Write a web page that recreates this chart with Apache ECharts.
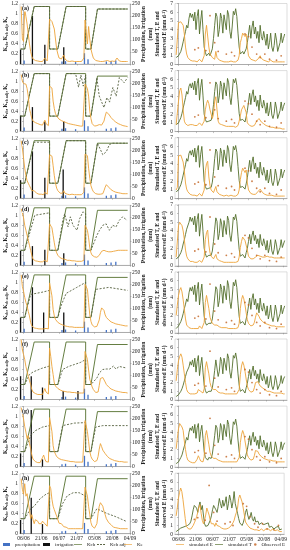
<!DOCTYPE html>
<html><head><meta charset="utf-8">
<script src="https://cdn.jsdelivr.net/npm/echarts@6/dist/echarts.min.js"></script>
<style>html,body{margin:0;padding:0;background:#fff}#c{width:290px;height:550px}</style>
</head><body><div id="c"></div>
<script>
const panelLabels = ['(a)','(b)','(c)','(d)','(e)','(f)','(g)','(h)'];
const tickDays = [0,15,30,45,60,75,90];
const tickLabels = ['06/06','21/06','06/07','21/07','05/08','20/08','04/09'];
const KE_START = -2;   // first day of the Ke arrays
const ET_START = -2;   // first day of the E/T arrays

const kcb = [[-2.5,0.3],[1,0.3],[9,1.15],[22,1.15],[22,0.3],[29,0.3],[36,1.15],[52.5,1.15],[52.5,0.3],[57,0.3],[62.5,1.1],[88,1.1]];
const precipitation = [[0.5,15],[32.5,10],[35.5,12],[44,8],[51.5,45],[54.5,20],[70,10],[74,12],[78,15]];
const observedE = [[14,1.7],[17,1.9],[23.5,1.6],[27,5.6],[31,2.5],[34,1.5],[41,1.2],[45.5,1.4],[48,1.0],[57,3.5],[60,3.2],[63,2.0],[67,1.2],[70,0.8],[74,1.2],[78,0.6],[84,0.5],[88,1.0]];

const irrigation_a = [[-2.5,60],[7.5,200],[18,80],[34,70]];
const irrigation_b = [[-2.5,65],[7.5,100],[18,40],[34,40]];
const irrigation_c = [[-2.5,75],[7.5,195],[18,85],[33.5,120]];
const irrigation_d = [[-2.5,60],[7.5,80],[18,65],[34,50]];
const irrigation_e = [[-2.5,62],[7.5,188],[17,83],[34,83]];
const irrigation_f = [[-2.5,97],[6.5,97],[16,50],[33.5,35],[46,35]];
const irrigation_g = [[-2.5,55],[6.5,236],[16,30]];
const irrigation_h = [[-2.5,57],[6.5,150],[16,40]];

const kcbAdj_a = [[-2.5,0.3],[1,0.3],[9,1.15],[22,1.15],[22,0.3],[29,0.3],[36,1.15],[52.5,1.15],[52.5,0.3],[57,0.3],[62.5,1.1],[88,1.1]];
const kcbAdj_b = [[-2.5,0.3],[1,0.3],[9,1.15],[22,1.15],[22,0.3],[29,0.3],[36,1.15],[44,1.15],[46.5,0.88],[48.5,1.12],[50.5,0.9],[52.5,1.12],[52.5,0.3],[57,0.3],[62,1.07],[64,0.7],[68,0.47],[70.5,0.67],[72.7,0.58],[75.5,0.87],[78.3,0.7],[81,1.07],[85,0.97],[88,1.07]];
const kcbAdj_c = [[-2.5,0.3],[1,0.3],[9,1.12],[22,1.12],[22,0.3],[29,0.3],[36,1.15],[52.5,1.15],[52.5,0.3],[57,0.3],[62.5,1.1],[64,1.07],[67,0.87],[70,0.93],[72.5,1.07],[75,1.1],[88,1.1]];
const kcbAdj_d = [[-2.5,0.3],[1,0.3],[9.5,1.0],[22,1.05],[22,0.3],[29,0.3],[33.4,0.93],[34.8,1.03],[37.6,0.77],[39.6,0.97],[41.8,0.8],[45.2,0.7],[47.4,0.93],[50.2,1.07],[52.5,1.03],[52.5,0.3],[57,0.3],[62,0.6],[64.2,0.7],[67,0.8],[69.8,0.83],[72.6,0.7],[75.4,0.8],[78.2,0.77],[81,0.9],[83.8,0.97],[87.5,0.9]];
const kcbAdj_e = [[-2.5,0.3],[1,0.3],[6,0.76],[15,0.8],[22,0.84],[22,0.3],[29,0.3],[32,0.55],[36,0.78],[45,0.9],[52.5,1.0],[52.5,0.3],[57,0.3],[61,0.86],[72,0.9],[88,0.84]];
const kcbAdj_f = [[-2.5,0.3],[1,0.3],[5,0.5],[8,0.55],[15,0.62],[22,0.67],[22,0.3],[29,0.3],[33,0.6],[38,0.66],[43,0.7],[48,0.74],[52.5,0.8],[52.5,0.3],[57,0.3],[62,0.43],[64,0.53],[67,0.6],[70,0.61],[73,0.61],[76,0.67],[78,0.61],[81,0.66],[87,0.63]];
const kcbAdj_g = [[-2.5,0.3],[1,0.3],[6,0.62],[10,0.72],[16,0.79],[22,0.82],[22,0.3],[29,0.3],[33,0.82],[43,0.87],[52.5,0.88],[52.5,0.3],[57,0.3],[61,0.79],[67,0.82],[88,0.82]];
const kcbAdj_h = [[-2.5,0.3],[1,0.3],[6,0.5],[9,0.55],[14,0.7],[19,0.79],[22,0.82],[22,0.3],[29,0.3],[33,0.6],[37,0.76],[42,0.82],[47,0.82],[52.5,0.75],[52.5,0.3],[57,0.3],[62,0.5],[70,0.41],[78,0.34],[87.5,0.24]];

const ke_a = [1.15,0.5,0.45,1.1,0.95,0.8,0.6,0.4,0.25,0.15, 0.1,0.08,0.07,0.06,0.06,0.05,0.05,0.05,0.05,0.05, 0.12,0.08,0.06,0.05,0.9,0.88,0.85,0.82,0.7,0.5, 0.3,0.2,0.12,0.08,0.1,0.08,0.18,0.1,0.07,0.06, 0.05,0.05,0.08,0.06,0.05,0.05,0.06,0.05,0.05,0.05, 0.05,0.05,0.05,0.12,0.88,0.86,0.4,0.75,0.5,0.3, 0.2,0.12,0.08,0.07,0.06,0.06,0.05,0.05,0.05,0.05, 0.05,0.06,0.1,0.07,0.06,0.05,0.05,0.06,0.05,0.05, 0.06,0.12,0.08,0.06,0.05,0.05,0.05,0.05,0.05,0.05, 0.05];
const ke_b = [1.13,1.0,0.95,0.97,0.94,0.85,0.7,0.45,0.35,0.25, 0.2,0.18,0.17,0.16,0.15,0.14,0.13,0.12,0.12,0.11, 0.22,0.15,0.12,0.11,0.9,0.88,0.86,0.6,0.45,0.35, 0.3,0.26,0.24,0.22,0.21,0.2,0.19,0.18,0.17,0.16, 0.15,0.15,0.14,0.13,0.13,0.12,0.12,0.11,0.11,0.11, 0.1,0.1,0.1,0.12,0.94,0.92,0.85,0.7,0.4,0.25, 0.15,0.12,0.1,0.1,0.11,0.12,0.13,0.12,0.12,0.14, 0.2,0.3,0.38,0.37,0.34,0.3,0.27,0.25,0.22,0.2, 0.18,0.17,0.15,0.14,0.13,0.12,0.11,0.1,0.1,0.09, 0.09];
const ke_c = [1.15,1.0,0.8,0.6,0.45,0.35,0.3,0.25,0.2,0.15, 0.12,0.15,0.12,0.1,0.09,0.08,0.08,0.08,0.07,0.07, 0.12,0.09,0.08,0.07,0.87,0.86,0.84,0.65,0.45,0.3, 0.2,0.15,0.12,0.1,0.12,0.1,0.15,0.1,0.08,0.08, 0.07,0.07,0.09,0.08,0.07,0.07,0.08,0.07,0.07,0.07, 0.07,0.07,0.08,0.12,0.88,0.87,0.85,0.6,0.4,0.25, 0.18,0.13,0.1,0.09,0.08,0.08,0.08,0.08,0.08,0.09, 0.15,0.22,0.27,0.25,0.22,0.2,0.17,0.15,0.14,0.12, 0.12,0.12,0.11,0.1,0.1,0.1,0.09,0.09,0.09,0.09, 0.09];
const ke_d = [1.13,1.05,0.95,0.8,0.7,0.6,0.5,0.4,0.3,0.2, 0.12,0.1,0.09,0.08,0.08,0.07,0.07,0.07,0.07,0.06, 0.1,0.08,0.07,0.07,0.83,0.8,0.75,0.6,0.45,0.32, 0.25,0.2,0.17,0.15,0.14,0.13,0.12,0.12,0.11,0.1, 0.1,0.1,0.09,0.09,0.09,0.09,0.09,0.08,0.08,0.08, 0.08,0.08,0.08,0.1,0.8,0.78,0.7,0.55,0.35,0.25, 0.2,0.18,0.17,0.16,0.16,0.17,0.2,0.24,0.28,0.3, 0.3,0.29,0.28,0.27,0.27,0.26,0.27,0.28,0.28,0.29, 0.29,0.3,0.3,0.3,0.3,0.3,0.3,0.3,0.3,0.3, 0.3];
const ke_e = [1.15,0.92,0.82,0.7,0.6,0.53,0.42,0.33,0.2,0.13, 0.1,0.09,0.08,0.08,0.07,0.07,0.07,0.07,0.07,0.07, 0.1,0.08,0.07,0.07,0.99,1.02,0.73,0.46,0.33,0.26, 0.22,0.2,0.18,0.17,0.16,0.15,0.14,0.13,0.13,0.12, 0.12,0.11,0.11,0.11,0.1,0.1,0.1,0.1,0.1,0.1, 0.1,0.1,0.1,0.1,0.96,0.98,0.86,0.6,0.35,0.22, 0.15,0.12,0.11,0.11,0.12,0.15,0.25,0.4,0.49,0.47, 0.44,0.35,0.3,0.27,0.25,0.23,0.21,0.2,0.19,0.18, 0.17,0.16,0.16,0.15,0.15,0.14,0.14,0.13,0.13,0.13, 0.13];
const ke_f = [1.2,0.99,0.9,0.8,0.66,0.56,0.46,0.38,0.3,0.2, 0.15,0.13,0.12,0.11,0.1,0.1,0.1,0.1,0.1,0.11, 0.22,0.15,0.12,0.11,1.03,0.86,0.66,0.5,0.33,0.27, 0.24,0.22,0.2,0.19,0.18,0.17,0.17,0.16,0.16,0.15, 0.15,0.15,0.14,0.14,0.14,0.14,0.13,0.13,0.13,0.13, 0.13,0.13,0.13,0.13,0.96,0.95,0.8,0.59,0.4,0.33, 0.25,0.2,0.16,0.14,0.13,0.15,0.28,0.42,0.46,0.44, 0.4,0.35,0.3,0.27,0.25,0.23,0.21,0.2,0.19,0.18, 0.17,0.17,0.16,0.16,0.15,0.15,0.14,0.14,0.14,0.13, 0.13];
const ke_g = [1.18,1.08,0.95,0.8,0.69,0.56,0.62,0.46,0.36,0.23, 0.15,0.12,0.1,0.09,0.08,0.08,0.08,0.1,0.18,0.23, 0.15,0.1,0.09,0.09,0.98,0.95,0.7,0.42,0.3,0.25, 0.2,0.18,0.16,0.15,0.14,0.13,0.13,0.12,0.12,0.11, 0.11,0.1,0.1,0.1,0.1,0.1,0.09,0.09,0.09,0.09, 0.09,0.09,0.09,0.1,0.92,0.9,0.7,0.5,0.3,0.2, 0.15,0.12,0.1,0.1,0.12,0.2,0.35,0.46,0.4,0.33, 0.3,0.26,0.23,0.2,0.18,0.16,0.15,0.14,0.13,0.12, 0.12,0.11,0.11,0.1,0.1,0.1,0.09,0.09,0.09,0.09, 0.09];
const ke_h = [1.1,0.89,0.79,1.0,0.75,0.8,0.62,0.48,0.3,0.38, 0.28,0.2,0.28,0.32,0.25,0.2,0.18,0.2,0.25,0.22, 0.2,0.17,0.15,0.15,0.96,0.9,0.69,0.55,0.48,0.51, 0.35,0.28,0.21,0.24,0.2,0.17,0.14,0.14,0.13,0.12, 0.1,0.1,0.1,0.1,0.1,0.1,0.1,0.1,0.1,0.1, 0.1,0.1,0.1,0.1,0.93,0.9,0.75,0.55,0.38,0.22, 0.15,0.12,0.11,0.12,0.2,0.4,0.55,0.62,0.58,0.55, 0.45,0.38,0.3,0.26,0.22,0.2,0.18,0.14,0.13,0.12, 0.12,0.11,0.11,0.1,0.1,0.1,0.1,0.1,0.1,0.1, 0.1];

const t_a = [0.8,0.8,1.0,1.2,1.5,2.0,2.6,3.2,3.8,4.5, 4.2,5.3,5.9,5.4,5.8,5.0,6.0,4.0,5.5,6.3, 3.5,5.0,6.2,4.0,2.0,1.4,1.0,0.9,1.3,1.0, 1.2,1.8,3.0,4.5,5.9,5.5,3.2,4.0,5.9,5.3, 3.6,5.7,5.5,4.0,6.2,5.7,3.8,3.0,4.3,6.1, 5.7,6.4,5.5,3.6,2.0,1.2,1.0,1.5,1.2,1.0, 1.8,2.5,3.5,4.5,3.0,4.3,5.0,3.5,4.3,3.0, 3.8,2.5,4.5,3.2,2.8,3.8,3.0,2.2,3.5,1.8, 2.5,3.6,2.0,1.5,2.2,3.6,2.8,1.5,1.4,2.5, 3.6,2.5,3.0,3.5];
const t_b = [0.8,0.9,1.0,1.3,1.6,2.1,2.7,3.3,3.9,4.6, 4.3,5.2,5.5,5.0,5.6,4.8,5.8,4.2,5.5,6.1, 3.6,5.1,6.0,4.1,2.0,1.4,1.1,1.0,1.2,1.0, 1.3,1.9,3.1,4.6,5.7,5.4,3.3,4.1,5.8,5.2, 3.7,5.6,5.4,4.1,6.1,5.6,3.9,3.1,4.4,6.0, 5.6,6.1,5.3,3.7,2.1,1.3,1.1,1.4,1.3,1.1, 1.7,2.4,3.4,4.4,3.1,4.2,4.8,3.4,4.1,2.9, 3.6,2.4,4.2,3.1,2.7,3.6,2.9,2.1,3.3,1.8, 2.4,3.4,1.9,1.5,2.1,3.4,2.7,1.5,1.4,2.4, 3.4,2.4,2.9,3.3];
const t_d = [0.8,0.8,1.0,1.2,1.5,1.9,2.5,3.0,3.6,4.2, 4.0,5.0,5.6,5.1,5.5,4.7,5.7,3.9,5.3,6.0, 3.4,4.8,5.9,3.9,2.0,1.4,1.0,0.9,1.2,1.0, 1.2,1.7,2.8,4.2,5.5,5.1,3.0,3.7,5.4,4.8, 3.3,5.2,5.0,3.6,5.7,5.2,3.5,2.8,4.0,5.6, 5.3,5.9,5.1,3.4,1.9,1.1,0.9,1.3,1.1,0.9, 1.5,2.0,2.8,3.6,2.5,3.5,4.0,2.9,3.5,2.5, 3.1,2.1,3.6,2.6,2.3,3.1,2.5,1.8,2.9,1.5, 2.1,3.0,1.7,1.3,1.9,3.0,2.4,1.3,1.2,2.1, 3.0,2.1,2.5,2.9];
const t_e = [0.5,0.6,0.8,1.0,1.3,1.7,2.2,2.8,3.3,3.9, 3.6,4.6,5.2,4.8,5.3,4.4,5.5,3.6,5.0,5.8, 3.2,4.6,5.6,3.6,1.9,1.2,0.9,0.8,1.1,0.9, 1.1,1.6,2.7,4.0,5.3,5.0,3.0,3.7,5.6,5.0, 3.4,5.4,5.2,3.8,6.0,5.4,3.6,2.8,4.0,5.8, 5.4,6.1,5.2,3.4,1.9,1.1,0.9,1.3,1.1,0.9, 1.6,2.2,3.1,4.0,2.7,3.9,4.5,3.2,3.9,2.7, 3.4,2.3,4.0,2.9,2.5,3.4,2.7,2.0,3.1,1.6, 2.2,3.2,1.8,1.3,2.0,3.2,2.5,1.3,1.2,2.2, 3.2,2.2,2.7,3.1];
const t_f = [0.4,0.5,0.6,0.8,1.0,1.3,1.7,2.2,2.7,3.2, 3.0,3.8,4.4,4.0,4.6,3.8,4.8,3.2,4.4,5.1, 2.8,4.0,4.9,3.2,1.7,1.1,0.8,0.8,1.0,0.9, 1.0,1.4,2.3,3.4,4.6,4.4,2.7,3.3,4.9,4.4, 3.0,4.8,4.6,3.4,5.3,4.8,3.2,2.5,3.6,5.1, 4.8,5.4,4.6,3.0,1.7,1.0,0.8,1.2,1.0,0.8, 1.4,1.9,2.7,3.5,2.4,3.3,3.9,2.8,3.4,2.4, 3.0,2.0,3.5,2.5,2.2,3.0,2.4,1.8,2.7,1.4, 1.9,2.8,1.6,1.2,1.7,2.8,2.2,1.2,1.1,1.9, 2.8,1.9,2.4,2.7];
const t_g = [0.4,0.5,0.6,0.8,1.1,1.4,1.9,2.4,2.9,3.4, 3.1,4.0,4.5,4.2,4.7,3.9,4.9,3.3,4.5,5.0, 2.9,4.1,4.8,3.3,1.8,1.1,0.9,0.8,1.1,0.9, 1.0,1.5,2.5,3.6,4.8,4.5,2.8,3.4,5.0,4.5, 3.1,4.9,4.7,3.5,5.4,4.9,3.3,2.6,3.7,5.2, 4.9,5.5,4.7,3.1,1.8,1.0,0.9,1.2,1.0,0.9, 1.5,2.0,2.8,3.6,2.5,3.4,4.0,2.9,3.5,2.5, 3.1,2.1,3.6,2.6,2.3,3.1,2.5,1.9,2.8,1.5, 2.0,2.9,1.7,1.2,1.8,2.9,2.3,1.2,1.1,2.0, 2.9,2.0,2.5,2.8];
const t_h = [0.3,0.4,0.5,0.6,0.7,0.7,0.8,0.8,0.9,0.9, 1.0,1.0,1.2,1.5,2.1,2.8,3.3,3.5,3.0,2.5, 3.2,3.7,2.8,3.3,2.2,1.2,0.9,1.0,1.0,1.2, 1.6,2.1,2.8,3.3,3.5,2.8,2.5,3.2,4.1,3.5, 3.0,3.9,3.2,3.6,4.3,2.8,3.5,4.5,3.9,3.0, 3.7,4.9,3.5,3.3,2.4,1.8,1.3,1.1,1.0,1.3, 1.8,2.5,2.9,2.2,1.7,2.0,2.5,1.8,1.5,2.0, 1.4,1.2,1.5,1.1,1.0,1.3,1.5,1.1,0.9,1.2, 1.0,1.3,0.8,0.7,0.9,1.0,0.6,0.7,0.8,0.6, 0.9,0.5,0.7,0.6];

const e_a = [1.1,1.2,4.8,5.0,4.9,4.8,4.5,3.5,2.0,1.2, 0.8,0.6,0.5,0.5,0.4,0.5,0.4,0.4,0.3,0.4, 0.6,0.4,0.3,0.3,1.0,3.5,4.5,4.7,2.0,1.2, 1.0,0.8,0.7,0.6,1.5,0.8,0.6,0.5,0.4,0.4, 0.3,0.3,0.4,0.3,0.3,0.3,0.3,0.4,0.3,0.3, 0.3,0.3,0.3,0.5,1.0,2.5,3.0,3.6,3.8,3.2, 3.5,2.0,1.0,0.8,0.6,0.5,0.5,0.4,0.4,0.5, 0.6,0.8,1.0,0.7,0.6,0.5,0.4,0.4,0.4,0.3, 0.4,0.5,0.4,0.3,0.3,0.3,0.3,0.3,0.3,0.3, 0.3,0.3,0.3,0.3];
const e_b = [0.8,1.0,3.5,4.7,5.0,4.2,2.5,1.2,0.9,0.8, 0.7,0.7,0.8,0.7,0.8,0.7,0.7,0.8,0.7,0.7, 1.0,0.8,0.7,0.7,1.2,2.5,3.2,3.6,3.2,2.5, 2.0,1.5,2.0,3.5,4.0,2.5,1.2,0.9,0.8,0.8, 0.7,0.7,0.7,0.6,0.6,0.6,0.6,0.6,0.6,0.6, 0.5,0.5,0.5,0.7,1.2,1.8,2.5,2.3,3.0,3.2, 2.2,1.0,0.8,0.7,0.6,0.6,0.6,0.7,0.8,1.2, 1.4,1.5,1.3,1.1,1.0,0.9,0.8,0.7,0.7,0.6, 0.6,0.5,0.5,0.5,0.5,0.4,0.4,0.4,0.4,0.4, 0.4,0.3,0.3,0.3];
const e_c = [1.0,1.3,4.9,5.1,5.0,4.8,4.2,3.2,1.8,1.1, 0.8,0.6,0.5,0.5,0.4,0.4,0.4,0.4,0.3,0.4, 0.6,0.4,0.3,0.3,1.0,3.2,4.0,4.3,2.5,1.5, 1.0,0.8,0.7,0.8,1.4,0.8,0.6,0.5,0.4,0.4, 0.3,0.3,0.4,0.4,0.3,0.3,0.3,0.4,0.3,0.3, 0.3,0.3,0.3,0.5,1.0,2.2,3.0,3.5,3.7,3.0, 3.3,1.8,1.0,0.8,0.6,0.5,0.5,0.5,0.5,0.6, 0.8,1.0,1.1,0.9,0.7,0.6,0.5,0.5,0.4,0.4, 0.4,0.5,0.4,0.4,0.3,0.3,0.3,0.3,0.3,0.3, 0.3,0.3,0.3,0.3];
const e_d = [1.0,1.2,4.6,5.0,4.9,4.6,4.0,3.0,1.8,1.1, 0.8,0.6,0.5,0.5,0.5,0.4,0.4,0.4,0.4,0.4, 0.6,0.5,0.4,0.4,1.0,3.0,3.8,4.1,2.4,1.5, 1.1,0.9,0.8,0.8,1.3,0.8,0.7,0.6,0.5,0.5, 0.4,0.4,0.5,0.4,0.4,0.4,0.4,0.4,0.4,0.4, 0.4,0.4,0.4,0.5,1.0,2.1,2.8,3.3,3.5,2.9, 3.0,1.8,1.1,0.9,0.8,0.8,0.8,0.9,1.0,1.1, 1.2,1.2,1.1,1.1,1.0,1.0,1.0,1.1,1.1,1.0, 1.0,1.0,1.0,0.9,0.9,0.9,0.9,0.9,0.9,0.9, 0.9,0.9,0.9,0.9];
const e_e = [2.0,3.2,4.3,4.9,5.2,4.7,3.8,2.7,1.6,0.9, 0.7,0.6,0.5,0.5,0.5,0.5,0.5,0.5,0.5,0.5, 0.8,0.6,0.5,0.5,1.2,3.5,4.3,4.5,2.8,1.8, 1.4,1.1,1.0,0.9,1.1,0.9,0.8,0.7,0.7,0.6, 0.6,0.6,0.6,0.6,0.5,0.5,0.5,0.5,0.5,0.5, 0.5,0.5,0.5,0.6,1.1,2.8,3.8,4.3,3.9,3.2, 2.3,1.5,1.1,0.9,0.8,0.8,0.9,1.2,1.8,2.3, 2.2,1.9,1.6,1.4,1.3,1.2,1.1,1.0,1.0,0.9, 0.9,0.9,0.8,0.8,0.8,0.8,0.7,0.7,0.7,0.7, 0.7,0.7,0.7,0.7];
const e_f = [2.2,3.5,4.5,5.0,5.3,4.9,4.0,3.0,2.0,1.2, 0.9,0.8,0.7,0.7,0.7,0.7,0.7,0.7,0.8,1.2, 1.4,1.0,0.8,0.8,1.3,3.7,4.4,4.2,3.0,2.0, 1.5,1.3,1.2,1.1,1.2,1.0,0.9,0.9,0.8,0.8, 0.8,0.8,0.7,0.7,0.7,0.7,0.7,0.7,0.7,0.7, 0.7,0.7,0.7,0.8,1.2,2.9,3.9,4.4,4.0,3.3, 2.4,1.6,1.2,1.0,0.9,0.9,1.0,1.4,2.0,2.2, 2.1,1.9,1.6,1.5,1.4,1.3,1.2,1.1,1.0,1.0, 1.0,0.9,0.9,0.9,0.8,0.8,0.8,0.8,0.8,0.8, 0.8,0.7,0.7,0.7];
const e_g = [2.1,3.3,4.4,5.0,5.2,4.6,4.2,3.0,2.0,1.2, 0.8,0.7,0.6,0.6,0.5,0.5,0.5,0.6,0.9,1.3, 1.0,0.7,0.6,0.6,1.2,3.6,4.2,4.0,2.6,1.7, 1.3,1.1,1.0,0.9,1.0,0.9,0.8,0.7,0.7,0.7, 0.6,0.6,0.6,0.6,0.6,0.6,0.6,0.6,0.6,0.6, 0.6,0.6,0.6,0.7,1.1,2.8,3.7,4.2,3.8,3.0, 2.2,1.4,1.1,0.9,0.8,0.8,0.9,1.3,1.9,2.1, 1.8,1.5,1.3,1.2,1.1,1.0,0.9,0.9,0.8,0.8, 0.8,0.8,0.7,0.7,0.7,0.7,0.7,0.6,0.6,0.6, 0.6,0.6,0.6,0.6];
const e_h = [2.1,3.0,4.1,4.8,5.3,4.9,4.0,2.9,1.8,0.9, 0.7,0.6,0.5,0.6,0.7,1.0,1.3,1.6,2.0,2.5, 3.1,3.4,2.4,1.6,1.2,1.6,2.2,3.0,2.6,2.2, 1.6,1.2,1.4,1.2,0.9,1.3,1.0,0.8,0.9,0.8, 0.7,0.8,0.6,0.7,0.6,0.6,0.7,0.8,0.9,1.0, 1.3,1.6,2.1,2.5,3.0,4.1,4.5,4.3,3.7,3.0, 2.2,1.4,1.2,1.0,0.8,0.7,0.6,0.6,0.5,0.5, 0.6,0.5,0.5,0.4,0.5,0.6,0.5,0.4,0.5,0.6, 0.7,0.6,0.5,0.4,0.5,0.6,0.5,0.4,0.4,0.5, 0.4,0.3,0.3,0.3];

const panels = [
  {irr:irrigation_a, adj:kcbAdj_a, ke:ke_a, e:e_a, t:t_a},
  {irr:irrigation_b, adj:kcbAdj_b, ke:ke_b, e:e_b, t:t_b},
  {irr:irrigation_c, adj:kcbAdj_c, ke:ke_c, e:e_c, t:t_b},
  {irr:irrigation_d, adj:kcbAdj_d, ke:ke_d, e:e_d, t:t_d},
  {irr:irrigation_e, adj:kcbAdj_e, ke:ke_e, e:e_e, t:t_e},
  {irr:irrigation_f, adj:kcbAdj_f, ke:ke_f, e:e_f, t:t_f},
  {irr:irrigation_g, adj:kcbAdj_g, ke:ke_g, e:e_g, t:t_g},
  {irr:irrigation_h, adj:kcbAdj_h, ke:ke_h, e:e_h, t:t_h}
];

const C = {green:'#546f2c', orange:'#eda43a', blue:'#4472c4', black:'#111', obs:'#c0601e', adj:'#56613f'};
const FONT = 'Liberation Serif';
const LG = {left:20, width:110, height:60};
const RG = {left:175, width:112, height:61};
const rowTop = i => 4 + 67.1*i;

const grid=[], xAxis=[], yAxis=[], series=[], graphic=[];
const lab = {fontFamily:FONT, fontSize:5.5, color:'#222', margin:2};
const axLine = {show:true, lineStyle:{color:'#888', width:0.6}};
const tick = {show:true, length:1.5, lineStyle:{color:'#888', width:0.5}};
const toXY = (arr, start) => arr.map((v,k)=>[start+k, v]);
const titleStyle = {fontFamily:FONT, fontSize:5.5, fontWeight:'bold', fill:'#222', align:'center', verticalAlign:'middle'};
const vText = (x, y, text, rich) => ({type:'text', x:x, y:y, rotation:Math.PI/2, z:100, silent:true,
  style:Object.assign({text:text}, titleStyle, rich?{rich:rich}:{})});
const subRich = {s:{fontFamily:FONT, fontSize:4, fontWeight:'bold', fill:'#222', verticalAlign:'bottom', padding:[2,0,0,0]}};
const supRich = {p:{fontFamily:FONT, fontSize:4, fontWeight:'bold', fill:'#222', verticalAlign:'top', padding:[0,0,2,0]}};

panels.forEach((p,i)=>{
  const top = rowTop(i);
  const last = i===7;
  const mid = top + 30;
  grid.push({left:LG.left, top:top, width:LG.width, height:LG.height, show:true, borderColor:'#c8c8c8', borderWidth:0.6});
  grid.push({left:RG.left, top:top-0.5, width:RG.width, height:RG.height, show:true, borderColor:'#c8c8c8', borderWidth:0.6});
  const xl = {type:'value', gridIndex:2*i, min:-3, max:90, splitLine:{show:false}, axisLine:axLine,
    axisTick:{show:true, length:1.5, customValues:tickDays, lineStyle:{color:'#888',width:0.5}},
    axisLabel:{show:last, customValues:tickDays, ...lab, formatter:v=>tickLabels[tickDays.indexOf(v)]||''}};
  xAxis.push(xl);
  xAxis.push({...xl, gridIndex:2*i+1, max:93});
  yAxis.push({type:'value', gridIndex:2*i, min:0, max:1.2, interval:0.2, splitLine:{show:false}, axisLine:axLine, axisTick:tick, axisLabel:{...lab}});
  yAxis.push({type:'value', gridIndex:2*i, position:'right', min:0, max:250, interval:50, splitLine:{show:false}, axisLine:axLine, axisTick:tick, axisLabel:{...lab}});
  yAxis.push({type:'value', gridIndex:2*i+1, min:0, max:7, interval:1, splitLine:{show:false}, axisLine:axLine, axisTick:tick, axisLabel:{...lab}});
  const xi=2*i, yk=3*i;
  series.push({name:'precipitation', type:'bar', xAxisIndex:xi, yAxisIndex:yk+1, data:precipitation, barWidth:1.3, barGap:'-100%', itemStyle:{color:C.blue}});
  series.push({name:'irrigation', type:'bar', xAxisIndex:xi, yAxisIndex:yk+1, data:p.irr, barWidth:1.3, barGap:'-100%', itemStyle:{color:C.black}});
  series.push({name:'Kcb adj', type:'line', xAxisIndex:xi, yAxisIndex:yk, data:p.adj, symbol:'none', lineStyle:{color:C.adj, width:0.9, type:[2,1.5]}, itemStyle:{color:C.adj}, z:3});
  series.push({name:'Kcb', type:'line', xAxisIndex:xi, yAxisIndex:yk, data:kcb, symbol:'none', lineStyle:{color:C.green, width:0.9}, itemStyle:{color:C.green}, z:2});
  series.push({name:'Ke', type:'line', xAxisIndex:xi, yAxisIndex:yk, data:toXY(p.ke, KE_START), symbol:'none', lineStyle:{color:C.orange, width:0.9}, itemStyle:{color:C.orange}, z:4});
  series.push({name:'simulated E', type:'line', xAxisIndex:xi+1, yAxisIndex:yk+2, data:toXY(p.e, ET_START), symbol:'none', lineStyle:{color:C.orange, width:0.9}, itemStyle:{color:C.orange}, z:3});
  series.push({name:'simulated T', type:'line', xAxisIndex:xi+1, yAxisIndex:yk+2, data:toXY(p.t, ET_START), symbol:'none', lineStyle:{color:C.green, width:0.9}, itemStyle:{color:C.green}, z:2});
  series.push({name:'Observed E', type:'scatter', xAxisIndex:xi+1, yAxisIndex:yk+2, data:observedE, symbolSize:1.8, itemStyle:{color:C.obs}, z:4});
  graphic.push({type:'text', left:LG.left+2, top:top+1.5, z:100, style:{text:panelLabels[i], fontFamily:FONT, fontSize:6, fontWeight:'bold', fill:'#111', backgroundColor:'#fff'}});
  graphic.push(vText(6, mid, 'K{s|cb}, K{s|cb adj}, K{s|e}', subRich));
  graphic.push(vText(143.5, mid, 'Precipitation, irrigation'));
  graphic.push(vText(151, mid, '(mm)'));
  graphic.push(vText(158, mid, 'Simulated T, E and'));
  graphic.push(vText(164.5, mid, 'observed E (mm d{p|-1})', supRich));
});

const LINE_ICON = 'path://M0,0H12V1H0Z';
const DASH_ICON = 'path://M0,0H2.5V1H0Z M4,0H6.5V1H4Z M8,0H10.5V1H8Z';
const legItem = (name, left, icon, iw, ih) => ({data:[{name:name, icon:icon}], left:left, top:542, padding:0,
  itemWidth:iw, itemHeight:ih, textStyle:{fontFamily:FONT, fontSize:5, color:'#222'}});

const chart = echarts.init(document.getElementById('c'), null, {renderer:'canvas'});
chart.setOption({
  animation:false, backgroundColor:'#fff',
  grid, xAxis, yAxis, series, graphic,
  legend:[
    legItem('precipitation', 3, 'rect', 7, 3), legItem('irrigation', 43, 'rect', 7, 3),
    legItem('Kcb', 74, LINE_ICON, 8, 1), legItem('Kcb adj', 97, DASH_ICON, 8, 1), legItem('Ke', 124, LINE_ICON, 8, 1),
    legItem('simulated E', 176, LINE_ICON, 8, 1), legItem('simulated T', 215, LINE_ICON, 8, 1), legItem('Observed E', 254, 'circle', 2.5, 2.5)
  ]
});
</script></body></html>
